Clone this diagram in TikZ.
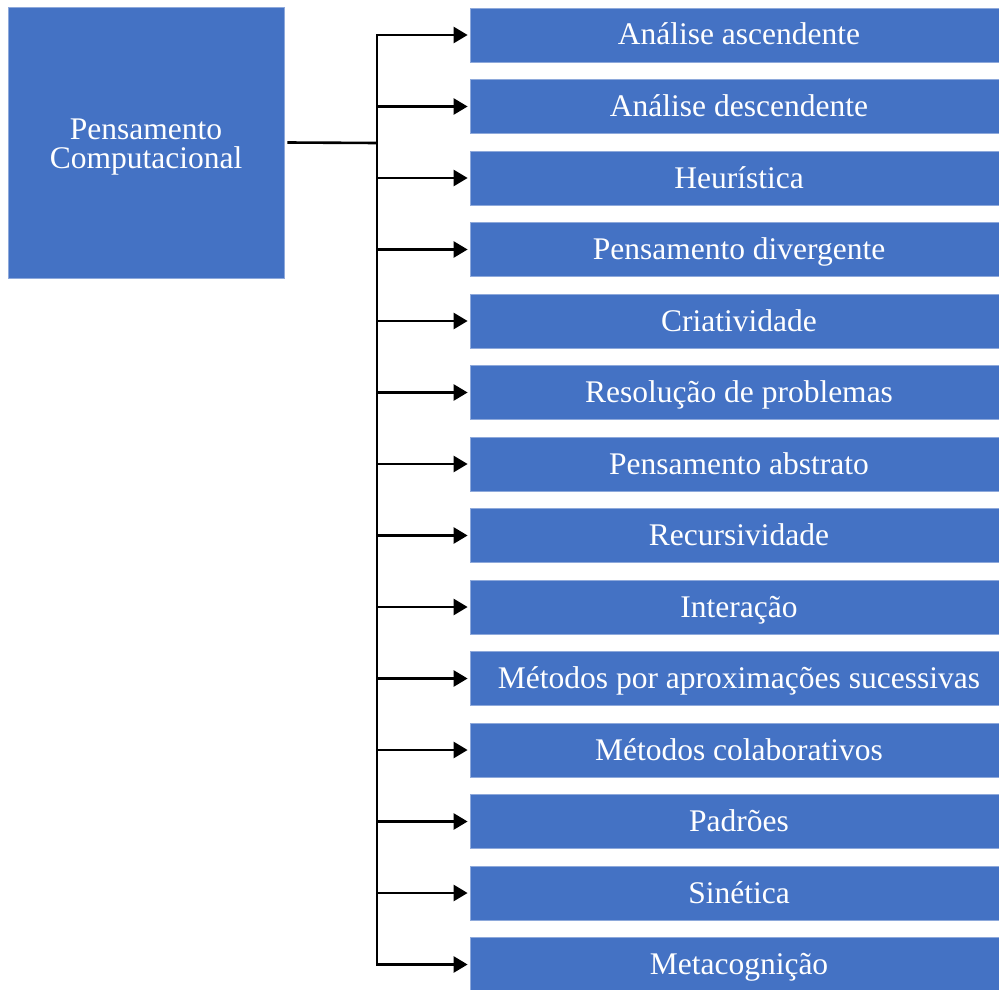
\documentclass[tikz,border=0pt]{standalone}
\usepackage{fontspec}
\setmainfont{Liberation Serif}
\usetikzlibrary{arrows.meta}
\definecolor{boxblue}{HTML}{4472C4}
\definecolor{boxedge}{HTML}{8EA9DB}
\begin{document}
\begin{tikzpicture}[x=1pt,y=-1pt,
  box/.style={rectangle,fill=boxblue,draw=boxedge,line width=0.8pt,text=white,
    font=\fontsize{31.5}{30}\selectfont,inner sep=0pt,align=center},
  item/.style={box,minimum width=538pt,minimum height=54pt,text height=26pt,text depth=6pt},
  conn/.style={line width=2.6pt,line join=miter},
  arr/.style={conn,-{Triangle[length=14pt,width=16pt]},shorten >=2pt}]
\useasboundingbox (0,0) rectangle (999,990);
\node[box,minimum width=276pt,minimum height=271pt] (pc) at (146,142.5) {};
\node[text=white,font=\fontsize{31.5}{29}\selectfont,align=center,inner sep=0pt] (pct) at (146,147) {Pensamento\\Computacional};
\foreach \t [count=\i from 0] in {Análise ascendente,Análise descendente,Heurística,Pensamento divergente,Criatividade,Resolução de problemas,Pensamento abstrato,Recursividade,Interação,Métodos por aproximações sucessivas,Métodos colaborativos,Padrões,Sinética,Metacognição}{
  \node[item] (b\i) at (739,{35+\i*71.5}) {\t};
}
\coordinate (bus) at (377,143);
\coordinate (top) at (377,35);
\coordinate (bot) at (377,965);
\draw[conn] ([xshift=3pt]pc.east) -- (bus);
\draw[conn] (top) -- (bot);
\foreach \i in {0,...,13}{
  \draw[arr] (bus) |- (b\i.west);
}
\end{tikzpicture}
\end{document}
